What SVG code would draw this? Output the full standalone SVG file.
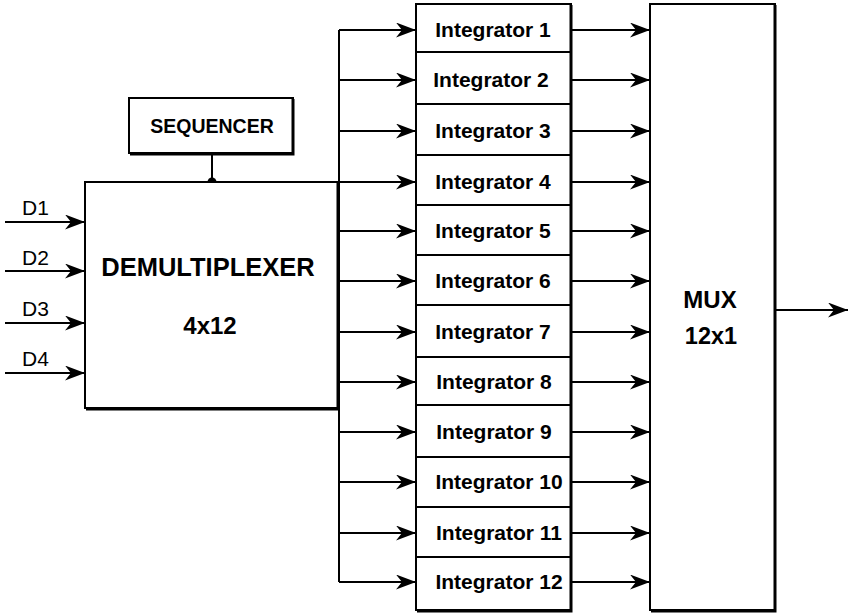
<svg xmlns="http://www.w3.org/2000/svg" width="850" height="614" viewBox="0 0 850 614">
<style>
.box{fill:#fff;stroke:#000;stroke-width:2}
.sh{stroke:#000;stroke-width:3;fill:none}
.ln{stroke:#000;stroke-width:2;fill:none}
.ar{stroke:#000;stroke-width:2;fill:none;marker-end:url(#ah)}
.t{font-family:"Liberation Sans",Arial,sans-serif;fill:#000}
.b{font-weight:bold}
.ig{font-size:21px;text-anchor:middle;font-weight:bold}
</style>
<defs>
<marker id="ah" markerUnits="userSpaceOnUse" markerWidth="22" markerHeight="16" refX="20" refY="7.5" orient="auto">
<path d="M0,0 L20,7.5 L0,15 L6,7.5 Z" fill="#000"/>
</marker>
</defs>
<rect width="850" height="614" fill="#fff"/>

<g id="connectors">
<line class="ar" x1="5" y1="222" x2="85" y2="222"/>
<line class="ar" x1="5" y1="271" x2="85" y2="271"/>
<line class="ar" x1="5" y1="323" x2="85" y2="323"/>
<line class="ar" x1="5" y1="373" x2="85" y2="373"/>
<line class="ln" x1="212" y1="153" x2="212" y2="182"/>
<circle cx="212" cy="182" r="4.5" fill="#000"/>
<line class="ln" x1="339" y1="30" x2="339" y2="582"/>
<line class="ar" x1="339" y1="30" x2="416" y2="30"/>
<line class="ar" x1="339" y1="80" x2="416" y2="80"/>
<line class="ar" x1="339" y1="131" x2="416" y2="131"/>
<line class="ar" x1="339" y1="182" x2="416" y2="182"/>
<line class="ar" x1="339" y1="231" x2="416" y2="231"/>
<line class="ar" x1="339" y1="281" x2="416" y2="281"/>
<line class="ar" x1="339" y1="332" x2="416" y2="332"/>
<line class="ar" x1="339" y1="382" x2="416" y2="382"/>
<line class="ar" x1="339" y1="432" x2="416" y2="432"/>
<line class="ar" x1="339" y1="482" x2="416" y2="482"/>
<line class="ar" x1="339" y1="533" x2="416" y2="533"/>
<line class="ar" x1="339" y1="582" x2="416" y2="582"/>
<line class="ar" x1="572" y1="30" x2="650" y2="30"/>
<line class="ar" x1="572" y1="80" x2="650" y2="80"/>
<line class="ar" x1="572" y1="131" x2="650" y2="131"/>
<line class="ar" x1="572" y1="182" x2="650" y2="182"/>
<line class="ar" x1="572" y1="231" x2="650" y2="231"/>
<line class="ar" x1="572" y1="281" x2="650" y2="281"/>
<line class="ar" x1="572" y1="332" x2="650" y2="332"/>
<line class="ar" x1="572" y1="382" x2="650" y2="382"/>
<line class="ar" x1="572" y1="432" x2="650" y2="432"/>
<line class="ar" x1="572" y1="482" x2="650" y2="482"/>
<line class="ar" x1="572" y1="533" x2="650" y2="533"/>
<line class="ar" x1="572" y1="582" x2="650" y2="582"/>
<line class="ar" x1="776" y1="310" x2="848" y2="310"/>
</g>

<g id="inputs" class="t" font-size="21">
<text x="22" y="215">D1</text>
<text x="22" y="265">D2</text>
<text x="22" y="316">D3</text>
<text x="22" y="366">D4</text>
</g>

<g id="sequencer">
<rect class="box" x="129" y="98" width="164" height="55"/>
<polyline class="sh" points="293,99 293,154 130,154"/>
<text class="t b" x="212" y="133" font-size="19.5" text-anchor="middle">SEQUENCER</text>
</g>

<g id="demultiplexer">
<rect class="box" x="85" y="182" width="253" height="226"/>
<polyline class="sh" points="338,183 338,409 86,409"/>
<text class="t b" x="208" y="276" font-size="25.5" text-anchor="middle">DEMULTIPLEXER</text>
<text class="t b" x="210" y="334" font-size="24" text-anchor="middle">4x12</text>
</g>

<g id="integrators">
<rect class="box" x="416" y="4" width="155" height="606"/>
<polyline class="sh" points="571,5 571,611 417,611"/>
<line class="ln" x1="416" y1="52" x2="571" y2="52"/>
<line class="ln" x1="416" y1="104" x2="571" y2="104"/>
<line class="ln" x1="416" y1="155" x2="571" y2="155"/>
<line class="ln" x1="416" y1="205" x2="571" y2="205"/>
<line class="ln" x1="416" y1="255" x2="571" y2="255"/>
<line class="ln" x1="416" y1="305" x2="571" y2="305"/>
<line class="ln" x1="416" y1="357" x2="571" y2="357"/>
<line class="ln" x1="416" y1="405" x2="571" y2="405"/>
<line class="ln" x1="416" y1="457" x2="571" y2="457"/>
<line class="ln" x1="416" y1="507" x2="571" y2="507"/>
<line class="ln" x1="416" y1="557" x2="571" y2="557"/>
</g>
<g id="integrator-labels" class="t ig">
<text id="int1" x="493" y="37">Integrator 1</text>
<text id="int2" x="491" y="87">Integrator 2</text>
<text id="int3" x="493" y="138">Integrator 3</text>
<text id="int4" x="493" y="189">Integrator 4</text>
<text id="int5" x="493" y="238">Integrator 5</text>
<text id="int6" x="493" y="288">Integrator 6</text>
<text id="int7" x="493" y="339">Integrator 7</text>
<text id="int8" x="494" y="389">Integrator 8</text>
<text id="int9" x="494" y="439">Integrator 9</text>
<text id="int10" x="499" y="489">Integrator 10</text>
<text id="int11" x="499" y="540">Integrator 11</text>
<text id="int12" x="499" y="589">Integrator 12</text>
</g>

<g id="mux">
<rect class="box" x="650" y="4" width="125" height="606"/>
<polyline class="sh" points="775,5 775,611 651,611"/>
<text class="t b" x="710" y="308" font-size="24" text-anchor="middle">MUX</text>
<text class="t b" x="711" y="344" font-size="23.5" text-anchor="middle">12x1</text>
</g>
</svg>
